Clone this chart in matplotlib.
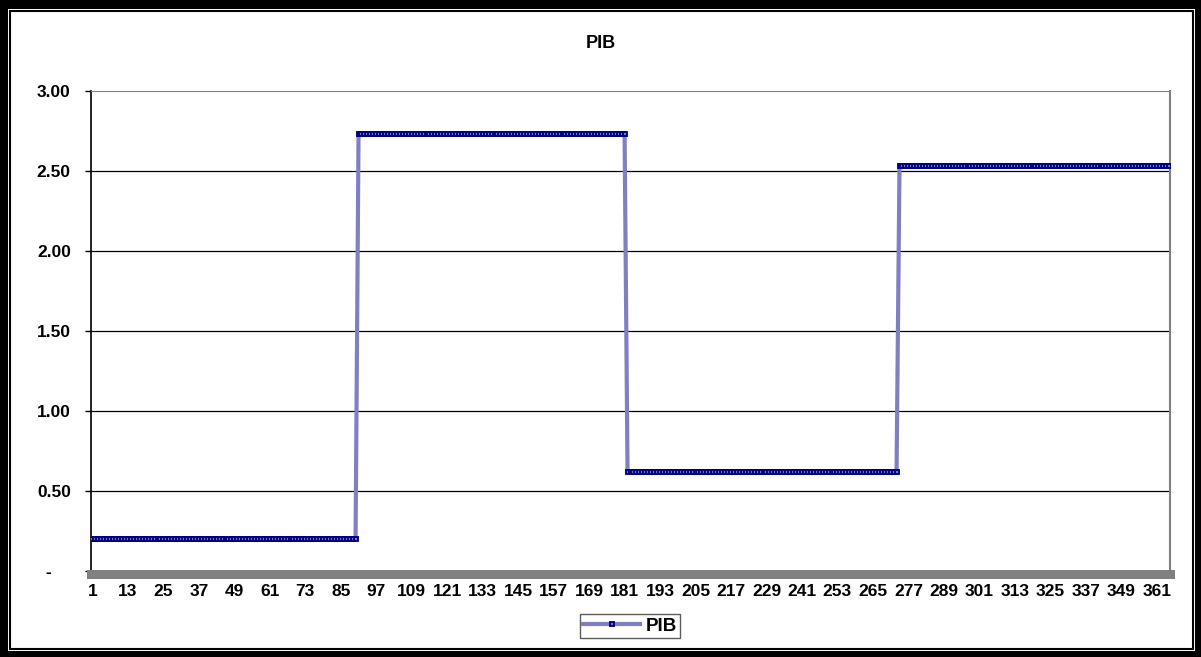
import numpy as np
import matplotlib
matplotlib.use("Agg")
import matplotlib.pyplot as plt
from matplotlib.patches import Rectangle

plt.rcParams['font.family'] = ['Liberation Sans', 'DejaVu Sans']

# PIB level per block of days
levels = [0.20, 2.73, 0.62, 2.53]
block_days = [90, 91, 92, 92]
days = np.arange(1, sum(block_days) + 1)
pib = np.repeat(levels, block_days)

xtick_pos = list(range(1, 366, 12))
ytick_pos = [0, 0.5, 1.0, 1.5, 2.0, 2.5, 3.0]
ytick_lab = ['-    ', '0.50', '1.00', '1.50', '2.00', '2.50', '3.00']

W, H = 1201, 657
fig = plt.figure(figsize=(W / 100, H / 100), dpi=100)
fig.patch.set_facecolor('black')

def px_rect(x0, y0, x1, y1, **kw):
    # rectangle given in image pixel coords (top-left origin)
    r = Rectangle((x0 / W, 1 - y1 / H), (x1 - x0) / W, (y1 - y0) / H,
                  transform=fig.transFigure, zorder=-10, **kw)
    fig.patches.append(r)

px_rect(8, 9, 1195, 651, facecolor='white', edgecolor='none')
px_rect(10, 11, 1193, 649, facecolor='white', edgecolor='black', linewidth=1.5)

ax = fig.add_axes([91 / W, 1 - 571 / H, (1170 - 91) / W, (571 - 91) / H])
ax.patch.set_alpha(0)

# spines first: set_position resets the ticks
ax.spines['left'].set_color('black')
ax.spines['left'].set_linewidth(1.2)
ax.spines['top'].set_color('#808080')
ax.spines['right'].set_color('#808080')
ax.spines['right'].set_linewidth(1.5)
ax.spines['bottom'].set_color('#808080')
ax.spines['bottom'].set_linewidth(6.5)
ax.spines['bottom'].set_position(('outward', 2.5))

ax.plot(days, pib, color='#8080C0', lw=3, marker='s', ms=3.2,
        mfc='#7878C0', mec='#000080', mew=1.35, label='PIB', zorder=3)

ax.set_xlim(0.5, 365.5)
ax.set_ylim(0, 3.0)
ax.set_yticks(ytick_pos)
ax.set_yticklabels(ytick_lab, fontsize=12.5, fontweight='bold')
ax.set_xticks(xtick_pos)
ax.set_xticklabels([str(v) for v in xtick_pos], fontsize=12.5, fontweight='bold')
ax.tick_params(axis='y', length=4.5, width=1, pad=10, color='black')
ax.tick_params(axis='x', length=0, pad=7)

for v in ytick_pos[1:-1]:
    ax.axhline(v, color='black', lw=0.9, zorder=1)

fig.text(601 / W, 1 - 43 / H, 'PIB', ha='center', va='center',
         fontsize=13, fontweight='bold')

leg = ax.legend(loc='center', bbox_to_anchor=(630 / W, 1 - 626 / H),
                bbox_transform=fig.transFigure, frameon=True, fancybox=False,
                handlelength=3.0, prop={'size': 13.5, 'weight': 'bold'},
                borderpad=0.2, handletextpad=0.3)
leg.get_frame().set_edgecolor('#333333')
leg.get_frame().set_linewidth(1)

fig.savefig('out.png', dpi=100, facecolor=fig.get_facecolor())
